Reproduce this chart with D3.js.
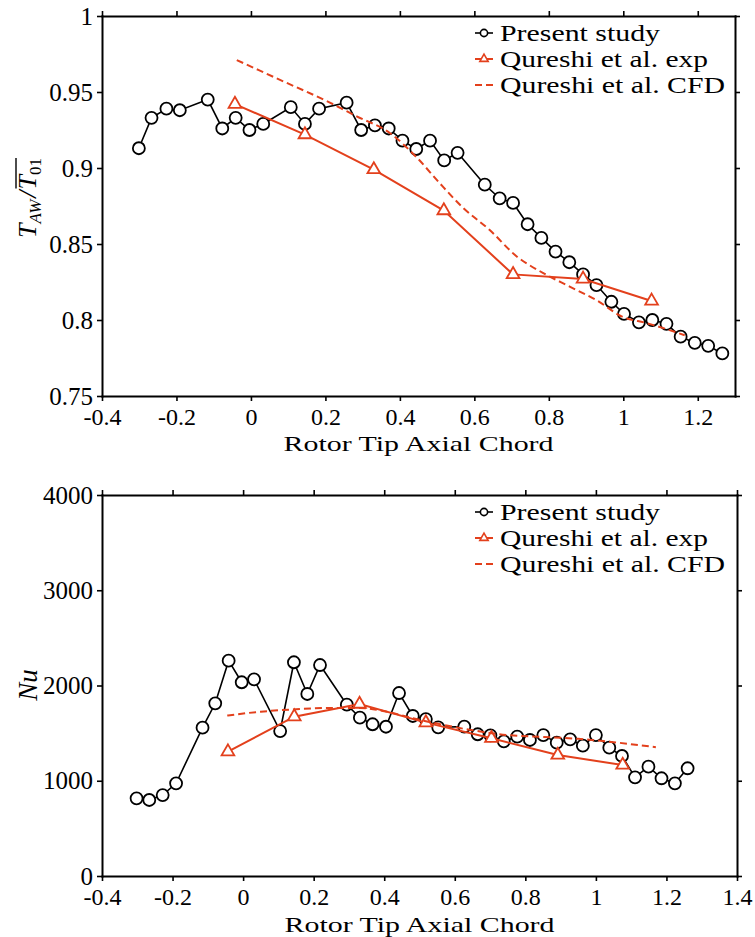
<!DOCTYPE html>
<html>
<head>
<meta charset="utf-8">
<script src="https://cdn.jsdelivr.net/npm/d3@7"></script>
<style>
  body { margin: 0; background: #fff; }
  svg { display: block; background: #fff; }
  text { font-family: "Liberation Serif", "Times New Roman", serif; fill: #000; }
</style>
</head>
<body>
<svg id="fig" width="755" height="937"></svg>
<script>
// ---- Tick labels ----
const xTicksTop = [-0.4, -0.2, 0, 0.2, 0.4, 0.6, 0.8, 1, 1.2];
const yTicksTop = [0.75, 0.8, 0.85, 0.9, 0.95, 1];
const xTicksBottom = [-0.4, -0.2, 0, 0.2, 0.4, 0.6, 0.8, 1, 1.2, 1.4];
const yTicksBottom = [0, 1000, 2000, 3000, 4000];

// ---- Series: adiabatic wall temperature ratio ----
const presentXTaw = [-0.301, -0.267, -0.227, -0.191, -0.116, -0.077, -0.041, -0.004, 0.033, 0.107,
  0.145, 0.183, 0.257, 0.296, 0.333, 0.370, 0.407, 0.444, 0.481, 0.519,
  0.555, 0.628, 0.668, 0.704, 0.743, 0.780, 0.818, 0.855, 0.892, 0.928,
  0.968, 1.002, 1.042, 1.078, 1.116, 1.154, 1.192, 1.228, 1.266];
const presentTaw = [0.913, 0.933, 0.939, 0.938, 0.945, 0.926, 0.933, 0.925, 0.929, 0.940,
  0.929, 0.939, 0.943, 0.925, 0.928, 0.926, 0.918, 0.9125, 0.918, 0.905,
  0.910, 0.889, 0.880, 0.877, 0.863, 0.854, 0.845, 0.838, 0.830, 0.823,
  0.812, 0.804, 0.7985, 0.800, 0.7975, 0.789, 0.785, 0.783, 0.778];

const expX = [-0.043, 0.145, 0.330, 0.518, 0.704, 0.892, 1.076];
const expTaw = [0.942, 0.922, 0.899, 0.872, 0.830, 0.827, 0.8125];

const cfdXTaw = [-0.038, 0.078, 0.212, 0.284, 0.373, 0.445, 0.507, 0.569, 0.642, 0.713, 0.784, 0.856, 0.928, 0.999, 1.062, 1.165];
const cfdTaw = [0.971, 0.958, 0.943, 0.934, 0.923, 0.907, 0.890, 0.874, 0.859, 0.842, 0.831, 0.822, 0.813, 0.802, 0.798, 0.790];

// ---- Series: Nusselt number ----
const presentXNu = [-0.302, -0.266, -0.228, -0.190, -0.115, -0.079, -0.041, -0.004, 0.031, 0.105,
  0.144, 0.182, 0.218, 0.294, 0.331, 0.367, 0.405, 0.442, 0.481, 0.518,
  0.553, 0.627, 0.665, 0.701, 0.739, 0.777, 0.813, 0.851, 0.889, 0.927,
  0.963, 1.000, 1.038, 1.074, 1.111, 1.149, 1.186, 1.224, 1.260];
const presentNu = [816, 798, 850, 973, 1557, 1813, 2261, 2034, 2065, 1522,
  2244, 1911, 2215, 1799, 1662, 1593, 1567, 1921, 1680, 1648,
  1561, 1568, 1488, 1477, 1414, 1463, 1428, 1480, 1400, 1435,
  1368, 1480, 1347, 1260, 1036, 1148, 1026, 973, 1131];

const expNu = [1305, 1673, 1805, 1610, 1446, 1270, 1165];

const cfdXNu = [-0.045, 0.05, 0.15, 0.25, 0.33, 0.40, 0.50, 0.55, 0.65, 0.75, 0.85, 0.95, 1.05, 1.17];
const cfdNu = [1685, 1725, 1750, 1765, 1765, 1730, 1640, 1600, 1530, 1480, 1460, 1440, 1405, 1352];

const legendLabels = ["Present study", "Qureshi et al. exp", "Qureshi et al. CFD"];

// ---- Styling ----
const RED = "#e3401c";
const BLACK = "#000";
const TICK_FONT = 24;

const svg = d3.select("#fig");
const fmt = d => String(+d.toFixed(2));

function drawPanel(o) {
  const x = d3.scaleLinear().domain(o.xDomain).range([o.left, o.right]);
  const y = d3.scaleLinear().domain(o.yDomain).range([o.bottom, o.top]);
  const g = svg.append("g");

  // frame with outward ticks on all four sides
  const axB = g.append("g").attr("transform", `translate(0,${o.bottom})`)
    .call(d3.axisBottom(x).tickValues(o.xTicks).tickSize(5).tickSizeOuter(0).tickPadding(7).tickFormat(fmt));
  const axT = g.append("g").attr("transform", `translate(0,${o.top})`)
    .call(d3.axisTop(x).tickValues(o.xTicks).tickSize(5).tickSizeOuter(0).tickFormat(""));
  const axL = g.append("g").attr("transform", `translate(${o.left},0)`)
    .call(d3.axisLeft(y).tickValues(o.yTicks).tickSize(5).tickSizeOuter(0).tickPadding(4).tickFormat(fmt));
  const axR = g.append("g").attr("transform", `translate(${o.right},0)`)
    .call(d3.axisRight(y).tickValues(o.yTicks).tickSize(5).tickSizeOuter(0).tickFormat(""));
  [axB, axT, axL, axR].forEach(a => {
    a.select(".domain").attr("stroke", "#000").attr("stroke-width", 2).attr("stroke-linecap", "square");
    a.selectAll(".tick line").attr("stroke", "#000").attr("stroke-width", 1.6);
    a.selectAll(".tick text").attr("font-size", TICK_FONT)
      .attr("font-family", "'Liberation Serif', serif").attr("fill", "#000");
  });
  axL.selectAll(".tick text").attr("font-size", 25);

  const line = d3.line().x(d => x(d[0])).y(d => y(d[1]));
  const smooth = d3.line().x(d => x(d[0])).y(d => y(d[1])).curve(d3.curveMonotoneX);

  // present study: black line with open circles
  const pres = d3.zip(o.presX, o.presY);
  g.append("path").datum(pres).attr("d", line)
    .attr("fill", "none").attr("stroke", BLACK).attr("stroke-width", 1.6);
  g.selectAll("circle.pres").data(pres).join("circle").attr("class", "pres")
    .attr("cx", d => x(d[0])).attr("cy", d => y(d[1])).attr("r", 6)
    .attr("fill", "#fff").attr("stroke", BLACK).attr("stroke-width", 1.8);

  // experiment: red line with open triangles
  const exp = d3.zip(o.expX, o.expY);
  g.append("path").datum(exp).attr("d", line)
    .attr("fill", "none").attr("stroke", RED).attr("stroke-width", 2);
  const tri = d3.symbol(d3.symbolTriangle, 70);
  g.selectAll("path.exp").data(exp).join("path").attr("class", "exp")
    .attr("d", tri).attr("transform", d => `translate(${x(d[0])},${y(d[1])})`)
    .attr("fill", "#fff").attr("stroke", RED).attr("stroke-width", 1.8);

  // CFD: red dashed curve
  const cfd = d3.zip(o.cfdX, o.cfdY);
  g.append("path").datum(cfd).attr("d", smooth)
    .attr("fill", "none").attr("stroke", RED).attr("stroke-width", 2)
    .attr("stroke-dasharray", "7,4");

  // x label
  g.append("text").attr("x", (o.left + o.right) / 2).attr("y", o.xLabelY)
    .attr("text-anchor", "middle").attr("font-size", 22)
    .attr("textLength", 270).attr("lengthAdjust", "spacingAndGlyphs")
    .text("Rotor Tip Axial Chord");

  // legend
  const lg = g.append("g");
  const rowY = [o.top + 25, o.top + 51, o.top + 77];
  const textLen = [160, 208, 225];
  legendLabels.forEach((lab, i) => {
    const cy = rowY[i] - 8;
    const ln = lg.append("line").attr("x1", 475).attr("x2", 493).attr("y1", cy).attr("y2", cy)
      .attr("stroke", i === 0 ? BLACK : RED).attr("stroke-width", i === 0 ? 1.6 : 2);
    if (i === 2) ln.attr("stroke-dasharray", "7,4");
    if (i === 0) lg.append("circle").attr("cx", 484).attr("cy", cy).attr("r", 3.6)
      .attr("fill", "#fff").attr("stroke", BLACK).attr("stroke-width", 1.6);
    if (i === 1) lg.append("path").attr("d", d3.symbol(d3.symbolTriangle, 30))
      .attr("transform", `translate(484,${cy})`)
      .attr("fill", "#fff").attr("stroke", RED).attr("stroke-width", 1.6);
    lg.append("text").attr("x", 500).attr("y", rowY[i]).attr("font-size", 24)
      .attr("textLength", textLen[i]).attr("lengthAdjust", "spacingAndGlyphs").text(lab);
  });
  return g;
}

const topPanel = drawPanel({
  left: 102, right: 735, top: 16, bottom: 396,
  xDomain: [-0.4, 1.3], yDomain: [0.75, 1],
  xTicks: xTicksTop, yTicks: yTicksTop,
  presX: presentXTaw, presY: presentTaw,
  expX: expX, expY: expTaw,
  cfdX: cfdXTaw, cfdY: cfdTaw,
  xLabelY: 451
});

const bottomPanel = drawPanel({
  left: 102, right: 737, top: 495, bottom: 876,
  xDomain: [-0.4, 1.4], yDomain: [0, 4000],
  xTicks: xTicksBottom, yTicks: yTicksBottom,
  presX: presentXNu, presY: presentNu,
  expX: expX, expY: expNu,
  cfdX: cfdXNu, cfdY: cfdNu,
  xLabelY: 932
});

// y label, top panel: T_AW / overline(T_01)
const yl = svg.append("g").attr("transform", "translate(36,198) rotate(-90)");
const ylt = yl.append("text").attr("text-anchor", "middle").attr("font-size", 26);
ylt.append("tspan").attr("font-style", "italic").text("T");
ylt.append("tspan").attr("font-style", "italic").attr("font-size", 17).attr("dy", 5).text("AW");
ylt.append("tspan").attr("font-style", "italic").attr("dy", -5).attr("dx", 2).text("/");
ylt.append("tspan").attr("font-style", "italic").attr("dx", 1).text("T");
ylt.append("tspan").attr("font-size", 17).attr("dy", 5).text("01");
{
  const node = ylt.node();
  const x0 = node.getStartPositionOfChar(4).x;
  const x1 = node.getEndPositionOfChar(6).x;
  yl.append("line").attr("x1", x0 + 1).attr("x2", x1).attr("y1", -20).attr("y2", -20)
    .attr("stroke", "#000").attr("stroke-width", 1.4);
}

// y label, bottom panel
svg.append("text").attr("transform", "translate(37,685) rotate(-90)")
  .attr("text-anchor", "middle").attr("font-size", 27).attr("font-style", "italic").text("Nu");
</script>
</body>
</html>
